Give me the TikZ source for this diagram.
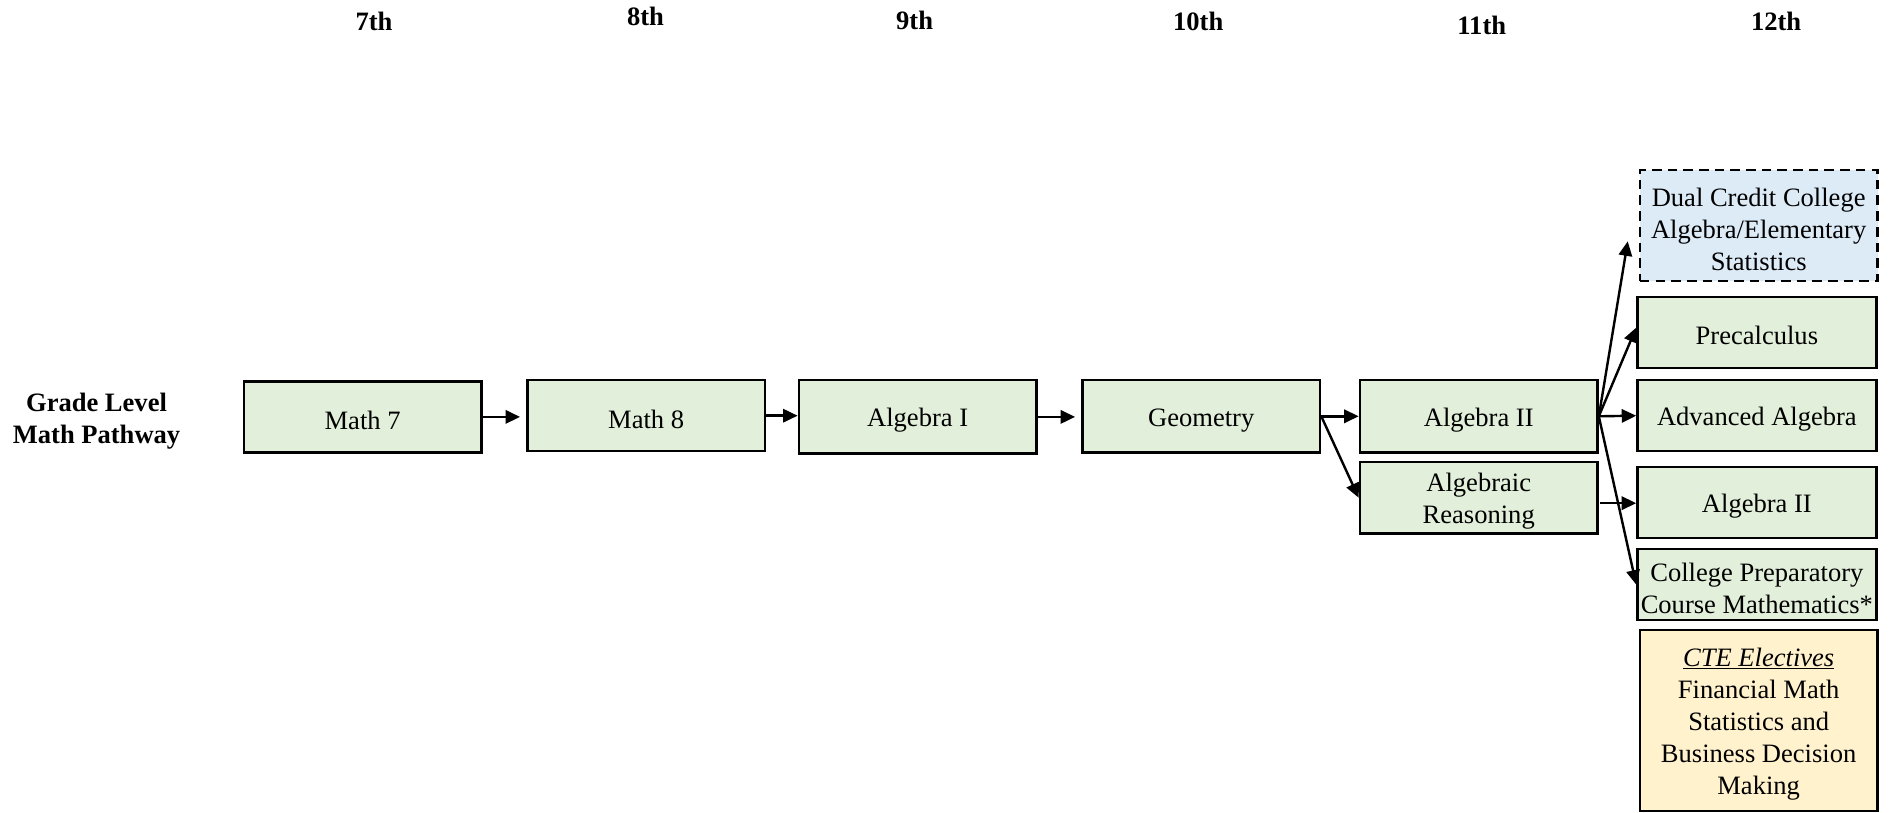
\documentclass[tikz,border=0pt]{standalone}
\usepackage{fontspec}
\setmainfont{Liberation Serif}
\usetikzlibrary{arrows.meta}
\definecolor{boxgreen}{HTML}{E2EFDA}
\definecolor{boxblue}{HTML}{DDEBF7}
\definecolor{boxyellow}{HTML}{FFF2CC}
\newcommand\tp{\rule{0pt}{21pt}}
\tikzset{
  course/.style={draw=black, line width=2pt, fill=boxgreen, minimum width=197pt, minimum height=59pt, inner sep=0pt, align=center, font=\fontsize{22}{26.5}\selectfont},
  grade/.style={font=\fontsize{22}{26}\selectfont\bfseries, inner sep=0pt, align=center},
  flow/.style={line width=2pt, -{Triangle[length=12pt,width=11pt]}},
}
\begin{document}
\begin{tikzpicture}[x=1pt,y=-1pt]
\useasboundingbox (0,0) rectangle (1568,673);
% grade headers
\node[grade] (g7) at (310,18) {7th};
\node[grade] (g8) at (535,14) {8th};
\node[grade] (g9) at (758,17) {9th};
\node[grade] (g10) at (993,18) {10th};
\node[grade] (g11) at (1228,21) {11th};
\node[grade] (g12) at (1472,18) {12th};
\node[grade] (lbl) at (80,349) {Grade Level\\Math Pathway};
% courses
\node[course] (m7) at (300.5,345.5) {\tp Math 7};
\node[course] (m8) at (535.5,344.5) {\tp Math 8};
\node[course, minimum height=61pt] (a1) at (760.5,345.5) {\tp Algebra I};
\node[course, minimum height=60pt] (geo) at (995.5,345) {\tp Geometry};
\node[course, minimum height=60pt] (a2) at (1225.5,345) {\tp Algebra II};
\node[course] (ar) at (1225.5,412.5) {\tp Algebraic\\Reasoning};
\node[course, fill=boxblue, dash pattern=on 8pt off 5pt, minimum height=92pt] (dual) at (1457.5,187) {\tp Dual Credit College\\Algebra/Elementary\\Statistics};
\node[course, minimum width=198pt] (pre) at (1456,275.5) {\tp Precalculus};
\node[course, minimum width=198pt] (adv) at (1456,344.5) {\tp Advanced Algebra};
\node[course, minimum width=198pt] (a2b) at (1456,416.5) {\tp Algebra II};
\node[course, minimum width=198pt] (cp) at (1456,484.5) {\tp College Preparatory\\Course Mathematics*};
\node[course, fill=boxyellow, minimum height=150pt] (cte) at (1457.5,597) {\tp\underline{\textit{CTE Electives}}\\Financial Math\\Statistics and\\Business Decision\\Making};
% free ends
\coordinate (dualin) at (1349,200);
\coordinate (arout) at (1326,417);
% connectors
\draw[flow, shorten >=5pt] (m7.east) -- (m7.east -| m8.west);
\draw[flow] (m8.east) -- (m8.east -| a1.west);
\draw[flow, shorten >=5pt] (a1.east) -- (a1.east -| geo.west);
\draw[flow] (geo.east) -- (geo.east -| a2.west);
\draw[flow] (geo.east) -- (ar.west);
\draw[flow] (a2.east) -- (dualin);
\draw[flow] (a2.east) -- ([yshift=4pt]pre.west);
\draw[flow] (a2.east) -- (adv.west);
\draw[flow] (a2.east) -- (cp.west);
\draw[flow] (arout) -- (arout -| a2b.west);
\end{tikzpicture}
\end{document}
